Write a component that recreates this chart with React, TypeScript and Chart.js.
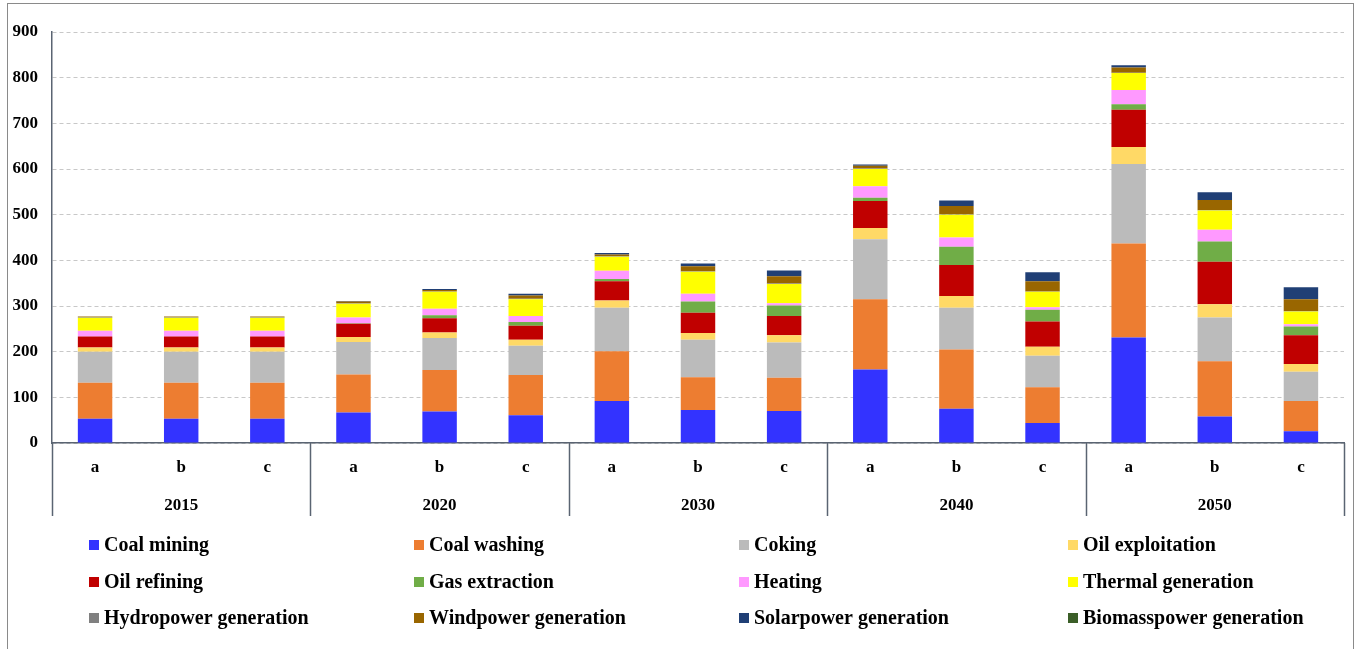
import React, { useEffect, useRef } from "react";
import { Chart, registerables } from "chart.js";

Chart.register(...registerables);

const subCategories = ["a", "b", "c", "a", "b", "c", "a", "b", "c", "a", "b", "c", "a", "b", "c"];
const years = ["2015", "2020", "2030", "2040", "2050"];
const yTicks = [0, 100, 200, 300, 400, 500, 600, 700, 800, 900];

const coalMining = [53, 53, 53, 67, 69, 61, 92, 72, 70, 161, 75, 44, 231, 58, 26];
const coalWashing = [79, 79, 79, 83, 91, 88, 109, 72, 73, 154, 130, 78, 206, 121, 66];
const coking = [68, 68, 68, 71, 70, 64, 95, 82, 77, 131, 91, 69, 174, 96, 64];
const oilExploitation = [9, 9, 9, 11, 12, 13, 16, 15, 16, 25, 26, 20, 37, 29, 17];
const oilRefining = [24, 24, 24, 29, 31, 31, 42, 44, 42, 59, 68, 55, 82, 93, 63];
const gasExtraction = [0, 0, 0, 1, 7, 8, 5, 25, 23, 7, 40, 26, 12, 44, 19];
const heating = [13, 13, 13, 13, 14, 13, 18, 17, 5, 25, 20, 5, 31, 26, 5];
const thermalGeneration = [28, 28, 28, 30, 37, 37, 31, 48, 42, 38, 50, 34, 37, 42, 28];
const hydropowerGeneration = [2, 2, 2, 1, 1, 1, 1, 1, 1, 1, 1, 1, 1, 1, 1];
const windpowerGeneration = [1, 1, 1, 4, 3, 7, 4, 11, 16, 6, 18, 22, 11, 22, 26];
const solarpowerGeneration = [0, 0, 0, 1, 2, 4, 3, 6, 13, 3, 12, 20, 5, 17, 26];
const biomasspowerGeneration = [0, 0, 0, 0, 0, 0, 0, 0, 0, 0, 0, 0, 0, 0, 0];

const seriesNames = [
  "Coal mining", "Coal washing", "Coking", "Oil exploitation",
  "Oil refining", "Gas extraction", "Heating", "Thermal generation",
  "Hydropower generation", "Windpower generation", "Solarpower generation", "Biomasspower generation",
];
const seriesValues = [
  coalMining, coalWashing, coking, oilExploitation,
  oilRefining, gasExtraction, heating, thermalGeneration,
  hydropowerGeneration, windpowerGeneration, solarpowerGeneration, biomasspowerGeneration,
];
const seriesColors = [
  "#3333FF", "#ED7D31", "#BBBBBB", "#FFD966",
  "#C00000", "#70AD47", "#FF99FF", "#FFFF00",
  "#808080", "#996600", "#203F75", "#3B5E28",
];

const FONT = "'Liberation Serif', 'Times New Roman', serif";

const decorPlugin = {
  id: "decor",
  afterDraw(chart: any) {
    const ctx = chart.ctx;
    const xs = chart.scales.x;
    const area = chart.chartArea;
    ctx.save();
    // outer frame
    ctx.strokeStyle = "#8a8a8a";
    ctx.lineWidth = 1;
    ctx.strokeRect(7.5, 3.5, 1346, 700);

    // group separators & year labels
    const n = subCategories.length;
    const step = (xs.getPixelForValue(1) - xs.getPixelForValue(0));
    ctx.strokeStyle = "#5a6472";
    ctx.lineWidth = 1.5;
    for (let g = 0; g <= years.length; g++) {
      const idx = g * 3;
      const x = idx < n ? xs.getPixelForValue(idx) - step / 2 : xs.getPixelForValue(n - 1) + step / 2;
      ctx.beginPath();
      ctx.moveTo(Math.round(x) + 0.5, area.bottom);
      ctx.lineTo(Math.round(x) + 0.5, area.bottom + 73);
      ctx.stroke();
    }
    ctx.fillStyle = "#000";
    ctx.font = `bold 17px ${FONT}`;
    ctx.textAlign = "center";
    ctx.textBaseline = "middle";
    years.forEach((yr, g) => {
      const x = xs.getPixelForValue(g * 3 + 1);
      ctx.fillText(yr, x, area.bottom + 63);
    });

    // legend
    const colX = [89, 414, 739, 1068];
    const rowY = [545, 582, 618];
    ctx.font = `bold 20px ${FONT}`;
    ctx.textAlign = "left";
    chart.data.datasets.forEach((ds: any, i: number) => {
      const c = i % 4;
      const r = Math.floor(i / 4);
      ctx.fillStyle = ds.backgroundColor;
      ctx.fillRect(colX[c], rowY[r] - 5, 10, 10);
      ctx.fillStyle = "#000";
      ctx.fillText(ds.label, colX[c] + 15, rowY[r] + 1);
    });
    ctx.restore();
  },
};

export default function App() {
  const ref = useRef<HTMLCanvasElement>(null);
  useEffect(() => {
    if (!ref.current) return;
    const chart = new Chart(ref.current, {
      type: "bar",
      data: {
        labels: subCategories,
        datasets: seriesNames.map((name, i) => ({
          label: name,
          data: seriesValues[i],
          backgroundColor: seriesColors[i],
          borderWidth: 0,
          barPercentage: 0.4,
          categoryPercentage: 1,
        })),
      },
      options: {
        animation: false,
        responsive: false,
        maintainAspectRatio: false,
        layout: { padding: { top: 32, left: 0, right: 12, bottom: 133 } },
        plugins: { legend: { display: false }, tooltip: { enabled: false } },
        scales: {
          x: {
            stacked: true,
            grid: { display: false, drawTicks: false },
            border: { display: true, color: "#5a6472", width: 1.5 },
            ticks: { color: "#000", font: { family: FONT, size: 17, weight: "bold" }, padding: 14, maxRotation: 0 },
            afterFit: (s: any) => { s.height = 73; },
          },
          y: {
            stacked: true,
            min: 0,
            max: 900,
            afterBuildTicks: (s: any) => { s.ticks = yTicks.map((v) => ({ value: v })); },
            grid: { color: "#c8c8c8", drawTicks: false },
            border: { display: true, color: "#5a6472", width: 1.5, dash: [4, 3] },
            ticks: { color: "#000", font: { family: FONT, size: 17, weight: "bold" }, padding: 14 },
            afterFit: (s: any) => { s.width = 52; },
          },
        },
      } as any,
      plugins: [decorPlugin],
    });
    return () => chart.destroy();
  }, []);
  return (
    <div style={{ position: "absolute", left: 0, top: 0, width: 1356, height: 649, background: "#fff" }}>
      <canvas ref={ref} width={1356} height={649} style={{ display: "block" }} />
    </div>
  );
}
